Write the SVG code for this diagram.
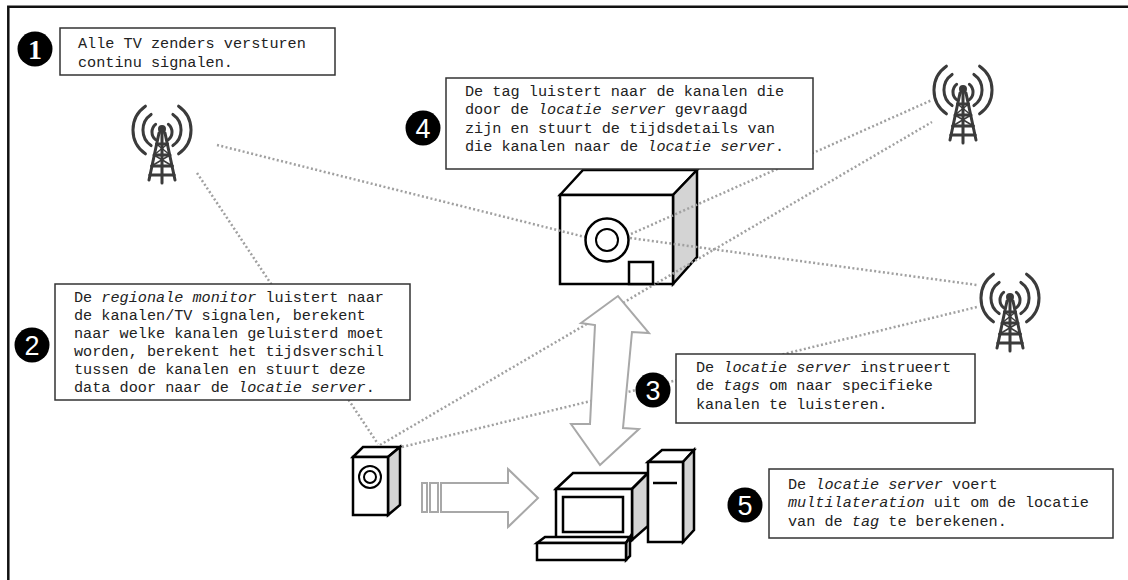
<svg xmlns="http://www.w3.org/2000/svg" xmlns:xlink="http://www.w3.org/1999/xlink" width="1128" height="580" viewBox="0 0 1128 580">
  <style>
    .note { fill: #ffffff; stroke: #333333; stroke-width: 1.5; }
    .txt { font-family: "Liberation Mono", "Courier New", monospace; font-size: 15.2px; fill: #222222; }
    .it { font-style: italic; }
    .badge { fill: #000000; }
    .num { font-family: "Liberation Sans", Arial, sans-serif; font-size: 27px; fill: #ffffff; text-anchor: middle; }
    .num1 { font-family: "Liberation Serif", "Times New Roman", serif; font-weight: bold; font-size: 28px; fill: #ffffff; text-anchor: middle; }
    .dev { stroke: #000000; stroke-width: 2.5; stroke-linejoin: miter; fill: #ffffff; }
    .side { fill: #d4d4d4; }
    .thin { stroke: #000000; stroke-width: 2; fill: none; }
    .signal { fill: none; stroke: #a0a0a0; stroke-width: 2.5; stroke-dasharray: 2 2.4; }
    .block { fill: #ffffff; stroke: #a8a8a8; stroke-width: 2; stroke-linejoin: miter; }
    .mast { fill: none; stroke: #3a3a3a; stroke-width: 3; stroke-linecap: round; }
  </style>
  <defs>
    <filter id="soft" x="-20%" y="-20%" width="140%" height="140%">
      <feGaussianBlur stdDeviation="0.7"/>
    </filter>
    <!-- broadcast mast icon, origin at the antenna tip -->
    <g id="mast" class="mast" filter="url(#soft)">
      <path d="M16.6,-23.8 A29,29 0 0 1 16.6,23.8 M-16.6,-23.8 A29,29 0 0 0 -16.6,23.8"/>
      <path d="M10.9,-15.6 A19,19 0 0 1 10.9,15.6 M-10.9,-15.6 A19,19 0 0 0 -10.9,15.6"/>
      <path d="M6.4,-5.7 A10,10 0 0 1 6.4,9.7 M-6.4,-5.7 A10,10 0 0 0 -6.4,9.7"/>
      <circle cx="0" cy="-1" r="2.5"/>
      <path d="M-3,3 L-13,50 M3,3 L13,50 M0,-1 L0,53"/>
      <path d="M-5.5,14 H5.5 M-8,25 H8 M-10.4,36 H10.4 M-12.2,45 H12.2"/>
      <path d="M-5.5,14 L8,25 M5.5,14 L-8,25 M-8,25 L10.4,36 M8,25 L-10.4,36" stroke-width="1.5"/>
    </g>
  </defs>

  <rect x="0" y="0" width="1128" height="580" fill="#ffffff"/>

  <!-- outer frame (top and left edges) -->
  <g id="frame" fill="none" stroke="#111111" stroke-width="2.5">
    <path d="M8.3,580 V6.7 H1128"/>
  </g>

  <!-- TV transmitters -->
  <g id="tower1"><use xlink:href="#mast" href="#mast" transform="translate(162,130)"/></g>
  <g id="tower2"><use xlink:href="#mast" href="#mast" transform="translate(963,90)"/></g>
  <g id="tower3"><use xlink:href="#mast" href="#mast" transform="translate(1010,298)"/></g>

  <!-- tag -->
  <g id="tag">
    <polygon class="dev" points="560,195 583,170 697,170 673,195"/>
    <polygon class="dev side" points="673,195 697,170 697,257 673,284"/>
    <rect class="dev" x="560" y="195" width="113" height="89"/>
  </g>

  <!-- regional monitor -->
  <g id="monitor">
    <polygon class="dev" points="353,457 363,447 400,447 388,457"/>
    <polygon class="dev side" points="388,457 400,447 400,505 388,515"/>
    <rect class="dev" x="353" y="457" width="35" height="58"/>
    <circle class="thin" cx="370" cy="477" r="11"/>
    <circle class="thin" cx="370" cy="477" r="6"/>
  </g>

  <!-- location server -->
  <g id="server">
    <polygon class="dev" points="556,489 573,473 648,473 632,489"/>
    <polygon class="dev side" points="632,489 648,473 648,526 632,540"/>
    <rect class="dev" x="556" y="489" width="76" height="51"/>
    <rect class="dev" x="563" y="497" width="60" height="35"/>
    <polygon class="dev" points="648,462 662,450 694,450 683,462"/>
    <polygon class="dev side" points="683,462 694,450 694,530 683,542"/>
    <rect class="dev" x="648" y="462" width="35" height="80"/>
    <line x1="653" y1="483" x2="677" y2="483" stroke="#000" stroke-width="2.5"/>
    <polygon class="dev" points="537,543 545,537 630,537 626,543"/>
    <polygon class="dev side" points="626,543 630,537 630,556 626,560"/>
    <rect class="dev" x="537" y="543" width="89" height="17"/>
  </g>

  <!-- signals and data flows -->
  <g id="connectors">
    <line class="signal" x1="217" y1="145" x2="585" y2="237"/>
    <line class="signal" x1="630" y1="238" x2="977" y2="285"/>
    <line class="signal" x1="631" y1="234" x2="932" y2="100"/>
    <line class="signal" x1="380" y1="445" x2="932" y2="122"/>
    <line class="signal" x1="402" y1="447" x2="977" y2="307"/>
    <line class="signal" x1="197" y1="173" x2="378" y2="444"/>
    <polygon class="block" points="618,296 581,323 595,325 590,424 571,424 600,465 639,429 623,428 632,332 649,333"/>
    <rect class="block" x="422" y="483" width="5" height="29"/>
    <rect class="block" x="430" y="483" width="8" height="29"/>
    <polygon class="block" points="441,483 508,483 508,469 538,498 508,527 508,512 441,512"/>
  </g>

  <!-- tag face drawn over the signal lines -->
  <g id="tag-face">
    <circle class="dev" cx="607" cy="240" r="21.5" stroke-width="2"/>
    <circle class="thin" cx="607" cy="240" r="11"/>
    <rect class="dev" x="629" y="262" width="24" height="22"/>
  </g>

  <!-- step 1 -->
  <g id="note1">
    <rect class="note" x="60" y="28" width="275" height="47"/>
    <text class="txt" x="78" y="48">Alle TV zenders versturen</text>
    <text class="txt" x="78" y="67">continu signalen.</text>
    <circle class="badge" cx="35" cy="49" r="17.5"/>
    <text class="num1" x="35" y="59">1</text>
  </g>

  <!-- step 2 -->
  <g id="note2">
    <rect class="note" x="55" y="284" width="355" height="116"/>
    <text class="txt" x="74" y="302">De <tspan class="it">regionale monitor</tspan> luistert naar</text>
    <text class="txt" x="74" y="320">de kanalen/TV signalen, berekent</text>
    <text class="txt" x="74" y="338">naar welke kanalen geluisterd moet</text>
    <text class="txt" x="74" y="356">worden, berekent het tijdsverschil</text>
    <text class="txt" x="74" y="374">tussen de kanalen en stuurt deze</text>
    <text class="txt" x="74" y="392">data door naar de <tspan class="it">locatie server</tspan>.</text>
    <circle class="badge" cx="32" cy="345" r="17.5"/>
    <text class="num" x="32" y="355">2</text>
  </g>

  <!-- step 3 -->
  <g id="note3">
    <rect class="note" x="676" y="354" width="299" height="69"/>
    <text class="txt" x="696" y="372">De <tspan class="it">locatie server</tspan> instrueert</text>
    <text class="txt" x="696" y="390">de <tspan class="it">tags</tspan> om naar specifieke</text>
    <text class="txt" x="696" y="409">kanalen te luisteren.</text>
    <circle class="badge" cx="653" cy="390" r="17.5"/>
    <text class="num" x="653" y="400">3</text>
  </g>

  <!-- step 4 -->
  <g id="note4">
    <rect class="note" x="446" y="78" width="367" height="91"/>
    <text class="txt" x="465" y="96">De tag luistert naar de kanalen die</text>
    <text class="txt" x="465" y="114">door de <tspan class="it">locatie server</tspan> gevraagd</text>
    <text class="txt" x="465" y="133">zijn en stuurt de tijdsdetails van</text>
    <text class="txt" x="465" y="151">die kanalen naar de <tspan class="it">locatie server</tspan>.</text>
    <circle class="badge" cx="423" cy="128" r="17.5"/>
    <text class="num" x="423" y="138">4</text>
  </g>

  <!-- step 5 -->
  <g id="note5">
    <rect class="note" x="769" y="469" width="344" height="69"/>
    <text class="txt" x="788" y="489">De <tspan class="it">locatie server</tspan> voert</text>
    <text class="txt" x="788" y="507"><tspan class="it">multilateration</tspan> uit om de locatie</text>
    <text class="txt" x="788" y="526">van de <tspan class="it">tag</tspan> te berekenen.</text>
    <circle class="badge" cx="745" cy="505" r="17.5"/>
    <text class="num" x="745" y="515">5</text>
  </g>
</svg>
